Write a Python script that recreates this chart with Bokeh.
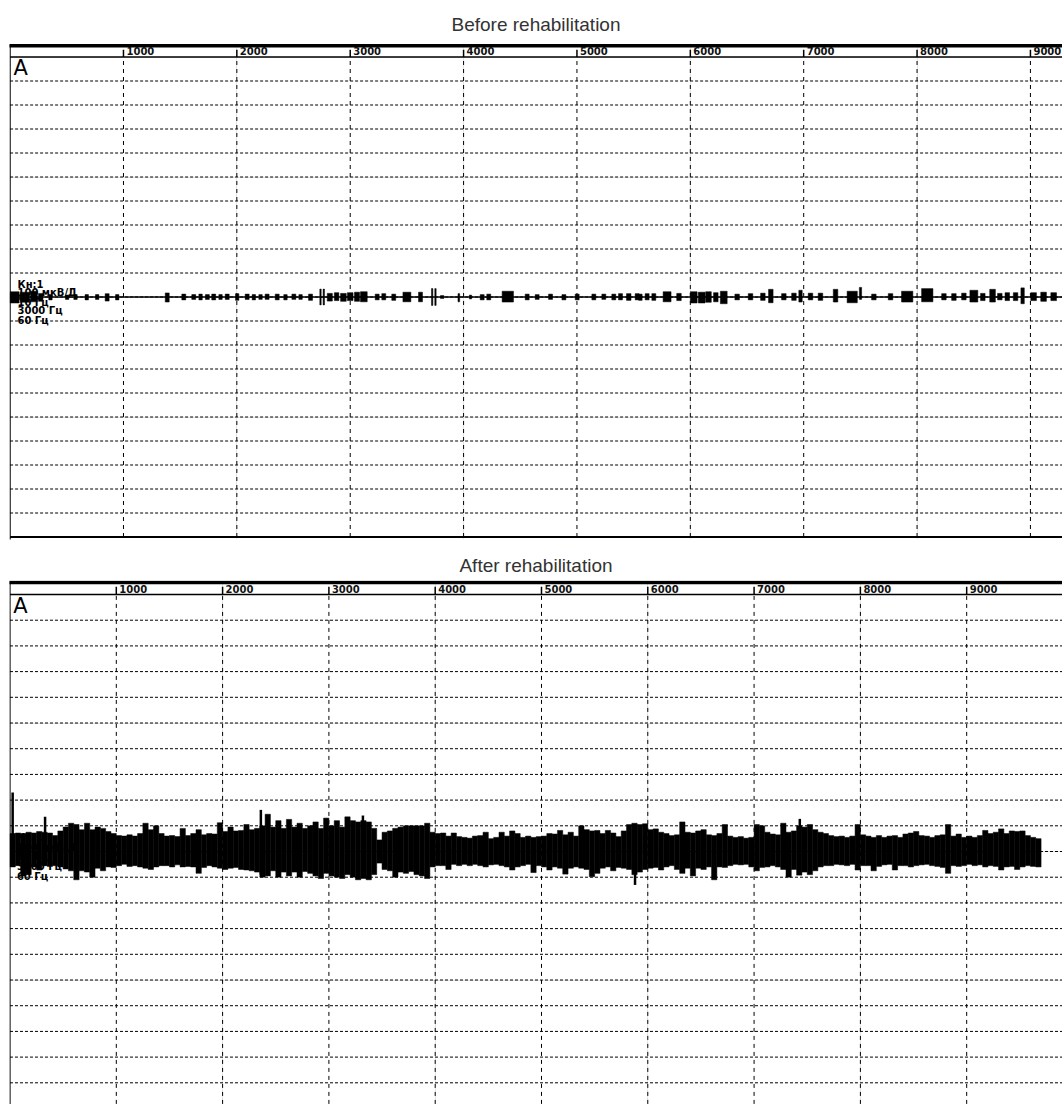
import numpy as np
from bokeh.plotting import figure
from bokeh.layouts import column
from bokeh.models import Range1d
from bokeh.core.properties import value
from bokeh.embed import file_html
from bokeh.resources import INLINE

# ---------------- data ----------------
titles = ["Before rehabilitation", "After rehabilitation"]
tick_values = [1000, 2000, 3000, 4000, 5000, 6000, 7000, 8000, 9000]
tick_labels = ["1000", "2000", "3000", "4000", "5000", "6000", "7000", "8000", "9000"]
grid_rows = [-9, -8, -7, -6, -5, -4, -3, -2, -1, 0, 1, 2, 3, 4, 5, 6, 7, 8, 9]
info_lines = ["Кн:1", "100 мкВ/Д", "10 Гц", "3000 Гц", "60 Гц"]
channel_label = "A"

# Before: baseline trace with short bursts (time, duration, upper, lower in divisions)
before_start, before_end = 0, 9400
before_t = [40, 130, 210, 270, 356, 503, 577, 676, 768, 856, 945, 1386, 1532, 1620, 1680,
            1740, 1796, 1856, 1915, 2003, 2091, 2150, 2209, 2267, 2356, 2429, 2503, 2562,
            2650, 2738, 2767, 2820, 2880, 2940, 3000, 3060, 3120, 3238, 3296, 3384, 3500,
            3620, 3723, 3752, 3811, 3958, 4061, 4164, 4222, 4390, 4561, 4649, 4767, 4885,
            5002, 5149, 5237, 5325, 5384, 5457, 5531, 5560, 5619, 5678, 5795, 5900, 6030,
            6100, 6160, 6225, 6295, 6413, 6531, 6640, 6710, 6825, 6914, 6972, 7060, 7148,
            7281, 7428, 7501, 7619, 7766, 7913, 8090, 8237, 8325, 8413, 8501, 8580, 8666,
            8730, 8796, 8869, 8931, 9028, 9116, 9205]
before_w = [80, 80, 60, 40, 30, 30, 30, 30, 30, 35, 30, 35, 35, 35, 30,
            35, 35, 30, 35, 30, 35, 30, 30, 35, 35, 30, 35, 30,
            35, 12, 12, 45, 40, 50, 50, 45, 60, 35, 35, 35, 70,
            35, 12, 12, 30, 15, 20, 35, 35, 100, 35, 35, 35, 35,
            35, 35, 35, 35, 35, 40, 35, 30, 35, 35, 70, 40, 60,
            60, 50, 40, 60, 40, 40, 40, 40, 40, 40, 30, 40, 40,
            40, 90, 20, 40, 40, 100, 100, 40, 40, 40, 70, 40, 50,
            40, 40, 40, 30, 50, 50, 50]
before_hi = [0.22, 0.20, 0.24, 0.15, 0.10, 0.08, 0.10, 0.10, 0.10, 0.14, 0.10, 0.17, 0.12, 0.10, 0.12,
             0.10, 0.12, 0.10, 0.12, 0.14, 0.12, 0.10, 0.10, 0.12, 0.12, 0.10, 0.12, 0.10,
             0.12, 0.33, 0.33, 0.15, 0.18, 0.15, 0.18, 0.20, 0.22, 0.12, 0.14, 0.12, 0.20,
             0.20, 0.35, 0.35, 0.06, 0.14, 0.08, 0.10, 0.12, 0.24, 0.12, 0.10, 0.12, 0.10,
             0.12, 0.12, 0.12, 0.12, 0.14, 0.14, 0.14, 0.12, 0.14, 0.14, 0.22, 0.15, 0.22,
             0.20, 0.22, 0.18, 0.24, 0.12, 0.14, 0.16, 0.32, 0.14, 0.16, 0.28, 0.16, 0.16,
             0.32, 0.24, 0.40, 0.12, 0.14, 0.24, 0.35, 0.14, 0.14, 0.16, 0.28, 0.15, 0.32,
             0.15, 0.18, 0.18, 0.38, 0.18, 0.20, 0.18]
before_lo = [-0.25, -0.22, -0.20, -0.18, -0.12, -0.10, -0.10, -0.12, -0.10, -0.17, -0.12, -0.21, -0.12, -0.10, -0.12,
             -0.10, -0.12, -0.10, -0.10, -0.14, -0.10, -0.12, -0.10, -0.10, -0.12, -0.12, -0.10, -0.10,
             -0.14, -0.33, -0.33, -0.17, -0.15, -0.18, -0.15, -0.18, -0.20, -0.12, -0.12, -0.14, -0.20,
             -0.20, -0.35, -0.35, -0.06, -0.20, -0.08, -0.12, -0.12, -0.21, -0.12, -0.10, -0.10, -0.12,
             -0.12, -0.12, -0.10, -0.12, -0.12, -0.14, -0.12, -0.14, -0.12, -0.14, -0.20, -0.15, -0.25,
             -0.25, -0.22, -0.20, -0.28, -0.12, -0.12, -0.14, -0.24, -0.12, -0.14, -0.21, -0.12, -0.14,
             -0.21, -0.24, -0.10, -0.12, -0.12, -0.21, -0.20, -0.12, -0.14, -0.12, -0.21, -0.15, -0.21,
             -0.12, -0.15, -0.15, -0.28, -0.15, -0.18, -0.15]

# After: envelope per 50 ms bin (upper / lower, divisions) and isolated spikes
after_bin = 50
after_hi = [0.70, 0.72, 0.70, 0.75, 0.72, 0.78, 0.75, 0.72, 0.62, 0.80,
            0.95, 1.10, 1.05, 0.85, 1.10, 0.85, 0.95, 0.90, 0.78, 0.70,
            0.62, 0.60, 0.65, 0.60, 0.70, 1.10, 0.85, 1.00, 0.70, 0.60,
            0.62, 0.58, 0.90, 0.62, 0.70, 0.85, 0.65, 0.70, 0.68, 1.12,
            0.78, 0.95, 0.80, 0.82, 1.05, 0.85, 0.90, 1.00, 1.45, 0.95,
            1.20, 0.90, 1.25, 0.95, 1.10, 0.90, 1.00, 1.15, 0.90, 1.30,
            1.00, 1.20, 0.95, 1.35, 1.20, 1.15, 1.20, 1.15, 0.90, 0.45,
            0.75, 0.80, 0.90, 0.95, 1.00, 1.00, 1.00, 1.00, 1.10, 0.75,
            0.70, 0.72, 0.60, 0.72, 0.58, 0.55, 0.52, 0.60, 0.62, 0.75,
            0.50, 0.55, 0.75, 0.60, 0.80, 0.70, 0.55, 0.60, 0.55, 0.58,
            0.60, 0.70, 0.68, 0.82, 0.65, 0.75, 0.60, 1.00, 0.85, 0.80,
            0.82, 0.70, 0.82, 0.72, 0.58, 0.80, 1.05, 1.10, 1.05, 1.08,
            0.85, 0.88, 0.75, 0.70, 0.62, 0.65, 1.15, 0.75, 0.72, 0.80,
            0.85, 0.65, 0.62, 0.70, 1.05, 0.60, 0.55, 0.58, 0.52, 0.55,
            1.05, 1.00, 0.75, 0.68, 0.65, 1.10, 0.75, 0.80, 1.00, 0.95,
            1.05, 0.85, 0.75, 0.70, 0.62, 0.58, 0.60, 0.55, 0.60, 1.05,
            0.65, 0.60, 0.55, 0.62, 0.55, 0.60, 0.62, 0.55, 0.68, 0.72,
            0.78, 0.62, 0.60, 0.55, 0.62, 0.65, 1.05, 0.60, 0.68, 0.55,
            0.60, 0.55, 0.62, 0.82, 0.70, 0.75, 0.88, 0.70, 0.80, 0.78,
            0.80, 0.62, 0.55, 0.50]
after_lo = [-0.60, -0.55, -0.95, -0.90, -0.60, -0.72, -0.55, -0.58, -0.55, -0.60,
            -0.68, -0.75, -1.10, -0.75, -0.80, -1.00, -0.65, -0.75, -0.60, -0.62,
            -0.55, -0.50, -0.58, -0.55, -0.60, -0.65, -0.70, -0.60, -0.55, -0.55,
            -0.60, -0.52, -0.60, -0.58, -0.60, -0.85, -0.62, -0.55, -0.60, -0.65,
            -0.70, -0.65, -0.62, -0.70, -0.72, -0.75, -0.80, -1.00, -0.95, -0.75,
            -1.00, -0.80, -0.95, -0.80, -1.00, -0.78, -0.85, -0.95, -1.05, -0.85,
            -0.95, -1.00, -1.05, -0.90, -1.00, -1.10, -1.05, -1.10, -0.90, -0.45,
            -0.70, -0.75, -1.00, -0.80, -0.85, -0.78, -0.90, -0.95, -1.05, -0.60,
            -0.55, -0.55, -0.70, -0.50, -0.55, -0.50, -0.55, -0.50, -0.55, -0.60,
            -0.52, -0.50, -0.55, -0.60, -0.72, -0.60, -0.55, -0.50, -0.82, -0.55,
            -0.60, -0.72, -0.60, -0.65, -0.88, -0.65, -0.60, -0.65, -0.70, -0.98,
            -0.85, -0.65, -0.60, -0.75, -0.62, -0.65, -0.70, -0.90, -0.80, -0.70,
            -0.65, -0.62, -0.72, -0.60, -0.55, -0.70, -0.85, -0.65, -0.95, -0.65,
            -0.70, -0.60, -1.10, -0.60, -0.62, -0.55, -0.50, -0.52, -0.50, -0.60,
            -0.75, -0.62, -0.60, -0.55, -0.60, -0.70, -1.00, -0.70, -0.92, -0.80,
            -0.90, -0.75, -0.60, -0.55, -0.55, -0.50, -0.52, -0.55, -0.50, -0.72,
            -0.55, -0.55, -0.75, -0.58, -0.52, -0.50, -0.72, -0.55, -0.55, -0.60,
            -0.55, -0.52, -0.50, -0.55, -0.58, -0.62, -0.85, -0.55, -0.58, -0.55,
            -0.50, -0.55, -0.52, -0.60, -0.55, -0.58, -0.72, -0.60, -0.58, -0.70,
            -0.60, -0.55, -0.58, -0.60]
after_spike_t = [25, 330, 2360, 3320, 5880, 7430]
after_spike_hi = [2.30, 1.35, 1.62, 1.40, 1.00, 1.27]
after_spike_lo = [-0.60, -0.55, -0.90, -1.00, -1.30, -0.90]

# ---------------- layout helpers ----------------
FONT_S = value("DejaVu Sans")


def make_panel(title, width, height, mb_left, mb_top, mb_bottom, x0, px_per_unit,
               y_top, px_per_div, title_offset, title_standoff, bottom_border):
    frame_w = width - mb_left
    frame_h = height - mb_top - mb_bottom
    p = figure(width=width, height=height, title=title,
               x_range=Range1d(x0, x0 + frame_w / px_per_unit),
               y_range=Range1d(y_top - frame_h / px_per_div, y_top),
               toolbar_location=None, output_backend="svg",
               x_axis_location=None, y_axis_location=None,
               min_border_left=mb_left, min_border_right=0,
               min_border_top=mb_top, min_border_bottom=mb_bottom,
               outline_line_color=None, background_fill_color="white",
               border_fill_color="white")
    p.title.align = "center"
    p.title.text_font = "Liberation Sans"
    p.title.text_font_size = "19px"
    p.title.text_font_style = "normal"
    p.title.text_color = "#333333"
    p.title.offset = title_offset
    p.title.standoff = title_standoff

    xe = 12000
    n = len(grid_rows)
    # dashed grid
    p.segment(x0=[0] * n, y0=grid_rows, x1=[xe] * n, y1=grid_rows,
              line_color="black", line_width=1, line_dash="3 2")
    m = len(tick_values)
    p.segment(x0=tick_values, y0=[-12] * m, x1=tick_values, y1=[10] * m,
              line_color="black", line_width=1, line_dash="4 4")
    # frame lines
    p.segment(x0=[0], y0=[-12], x1=[0], y1=[10.5], line_color="black", line_width=1.2)
    p.segment(x0=[0], y0=[10], x1=[xe], y1=[10], line_color="black", line_width=1.5)
    p.segment(x0=[-100], y0=[10.47], x1=[xe], y1=[10.47], line_color="black", line_width=3.5)
    if bottom_border:
        p.segment(x0=[0], y0=[-10], x1=[xe], y1=[-10], line_color="black", line_width=2)
    # tick marks & labels in the top strip
    p.segment(x0=tick_values, y0=[10] * m, x1=tick_values, y1=[10.3] * m,
              line_color="black", line_width=1.5)
    p.text(x=tick_values, y=[10] * m, text=tick_labels, x_offset=3, y_offset=-2,
           text_baseline="bottom", text_align="left", text_font=FONT_S,
           text_font_size="10px", text_font_style="bold", text_color="#111111")
    # channel label
    p.text(x=[30], y=[9.55], text=[channel_label], text_baseline="middle",
           text_align="left", text_font=FONT_S, text_font_size="21px", text_color="black")
    # info labels
    info_y = [0.54, 0.17, -0.21, -0.58, -0.96]
    p.text(x=[65] * len(info_lines), y=info_y, text=info_lines, text_baseline="middle",
           text_align="left", text_font=FONT_S, text_font_size="10px",
           text_font_style="bold", text_color="black")
    return p


p1 = make_panel(titles[0], 1062, 540, 9, 43, 1, -5.3, 0.11337, 10.5625, 24.0, 9, 18, True)
p2 = make_panel(titles[1], 1062, 564, 7, 40, 0, -4.7, 0.1065, 10.545, 25.7, 11, 9, False)

# before trace
p1.line(x=[before_start, before_end], y=[0, 0], line_color="black", line_width=1.5)
bt = np.array(before_t, dtype=float)
bw = np.array(before_w, dtype=float)
p1.quad(left=bt - bw / 2, right=bt + bw / 2, top=before_hi, bottom=before_lo,
        fill_color="black", line_color="black", line_width=0.5)

# after trace
left = np.arange(len(after_hi)) * after_bin
p2.quad(left=left, right=left + after_bin, top=after_hi, bottom=after_lo,
        fill_color="black", line_color="black", line_width=0.5)
p2.segment(x0=after_spike_t, y0=after_spike_lo, x1=after_spike_t, y1=after_spike_hi,
           line_color="black", line_width=2.5)

layout = column(p1, p2, spacing=0)
open("out.html", "w").write(file_html(layout, INLINE))
